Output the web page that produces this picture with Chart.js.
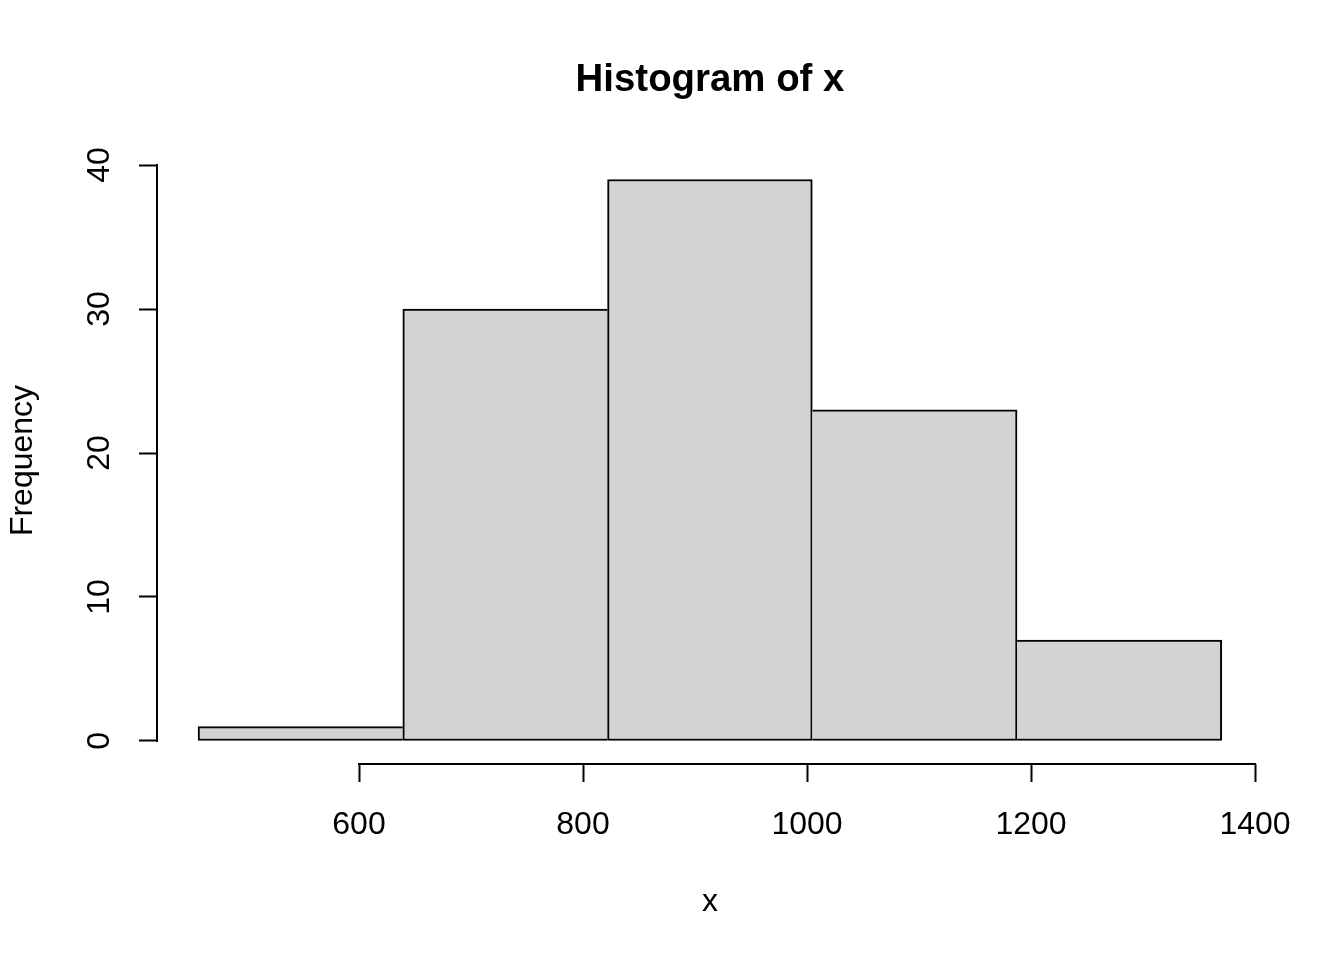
<!DOCTYPE html>
<html>
<head>
<meta charset="utf-8">
<script src="https://cdn.jsdelivr.net/npm/chart.js@4/dist/chart.umd.min.js"></script>
<style>
html, body { margin: 0; padding: 0; background: #ffffff; }
#wrap { width: 1344px; height: 960px; }
</style>
</head>
<body>
<div id="wrap"><canvas id="c" width="1344" height="960"></canvas></div>
<script>
// Histogram data
const breaks = [456.3, 639.1, 821.9, 1004.7, 1187.5, 1370.3];
const counts = [1, 30, 39, 23, 7];
const xTicks = [600, 800, 1000, 1200, 1400];
const yTicks = [0, 10, 20, 30, 40];

const points = counts.map((c, i) => ({ x: (breaks[i] + breaks[i + 1]) / 2, y: c }));

const FONT = "'Liberation Sans', Arial, sans-serif";

// shared edges are drawn once, by the taller of the two neighbouring bars
function edgeWidths(i) {
  const n = counts.length;
  const left = (i === 0 || counts[i] >= counts[i - 1]) ? 2 : 0;
  const right = (i === n - 1 || counts[i] > counts[i + 1]) ? 2 : 0;
  return { top: 2, bottom: 2, left, right };
}

const axisLines = {
  id: 'axisLines',
  afterDraw(chart) {
    const ctx = chart.ctx;
    const xs = chart.scales.x, ys = chart.scales.y;
    const ca = chart.chartArea;
    ctx.save();
    ctx.strokeStyle = '#000';
    ctx.lineWidth = 2;
    ctx.lineCap = 'square';
    ctx.beginPath();
    ctx.moveTo(xs.getPixelForValue(xTicks[0]), ca.bottom);
    ctx.lineTo(xs.getPixelForValue(xTicks[xTicks.length - 1]), ca.bottom);
    ctx.moveTo(ca.left, ys.getPixelForValue(yTicks[0]));
    ctx.lineTo(ca.left, ys.getPixelForValue(yTicks[yTicks.length - 1]));
    ctx.stroke();
    ctx.restore();
  }
};

new Chart(document.getElementById('c'), {
  type: 'bar',
  data: {
    datasets: [{
      data: points,
      backgroundColor: '#d3d3d3',
      borderColor: '#000000',
      borderWidth: (c) => edgeWidths(c.dataIndex),
      borderSkipped: false,
      barPercentage: 1,
      categoryPercentage: 1
    }]
  },
  options: {
    responsive: false,
    animation: false,
    devicePixelRatio: 1,
    layout: { padding: { left: 0, right: 81, top: 0, bottom: 0 } },
    plugins: {
      legend: { display: false },
      tooltip: { enabled: false },
      title: {
        display: true,
        text: 'Histogram of x',
        fullSize: false,
        color: '#000',
        font: { family: FONT, size: 38.4, weight: 'bold', lineHeight: 1.2 },
        padding: { top: 57, bottom: 53.92 }
      }
    },
    scales: {
      x: {
        type: 'linear',
        min: 419.64,
        max: 1407.1,
        offset: false,
        afterBuildTicks: s => { s.ticks = xTicks.map(v => ({ value: v })); },
        afterFit: s => { s.height = 196; },
        border: { display: false },
        grid: {
          offset: false,
          drawOnChartArea: false,
          drawTicks: true,
          tickLength: 18,
          tickColor: '#000',
          tickWidth: 2
        },
        ticks: {
          color: '#000',
          padding: 24,
          maxRotation: 0,
          autoSkip: false,
          callback: v => String(v),
          font: { family: FONT, size: 32, lineHeight: 1.2 }
        },
        title: {
          display: true,
          text: 'x',
          color: '#000',
          font: { family: FONT, size: 32, lineHeight: 1.2 },
          padding: { top: 0, bottom: 39 }
        }
      },
      y: {
        type: 'linear',
        min: -1.6,
        max: 40.56,
        afterBuildTicks: s => { s.ticks = yTicks.map(v => ({ value: v })); },
        afterFit: s => { s.width = 157; },
        border: { display: false },
        grid: {
          drawOnChartArea: false,
          drawTicks: true,
          tickLength: 18,
          tickColor: '#000',
          tickWidth: 2
        },
        ticks: {
          color: '#000',
          padding: 21,
          minRotation: 90,
          maxRotation: 90,
          crossAlign: 'center',
          autoSkip: false,
          callback: v => String(v),
          font: { family: FONT, size: 32, lineHeight: 1.2 }
        },
        title: {
          display: true,
          text: 'Frequency',
          color: '#000',
          font: { family: FONT, size: 32, lineHeight: 1.2 },
          padding: { top: 4, bottom: 0 }
        }
      }
    }
  },
  plugins: [axisLines]
});
</script>
</body>
</html>
